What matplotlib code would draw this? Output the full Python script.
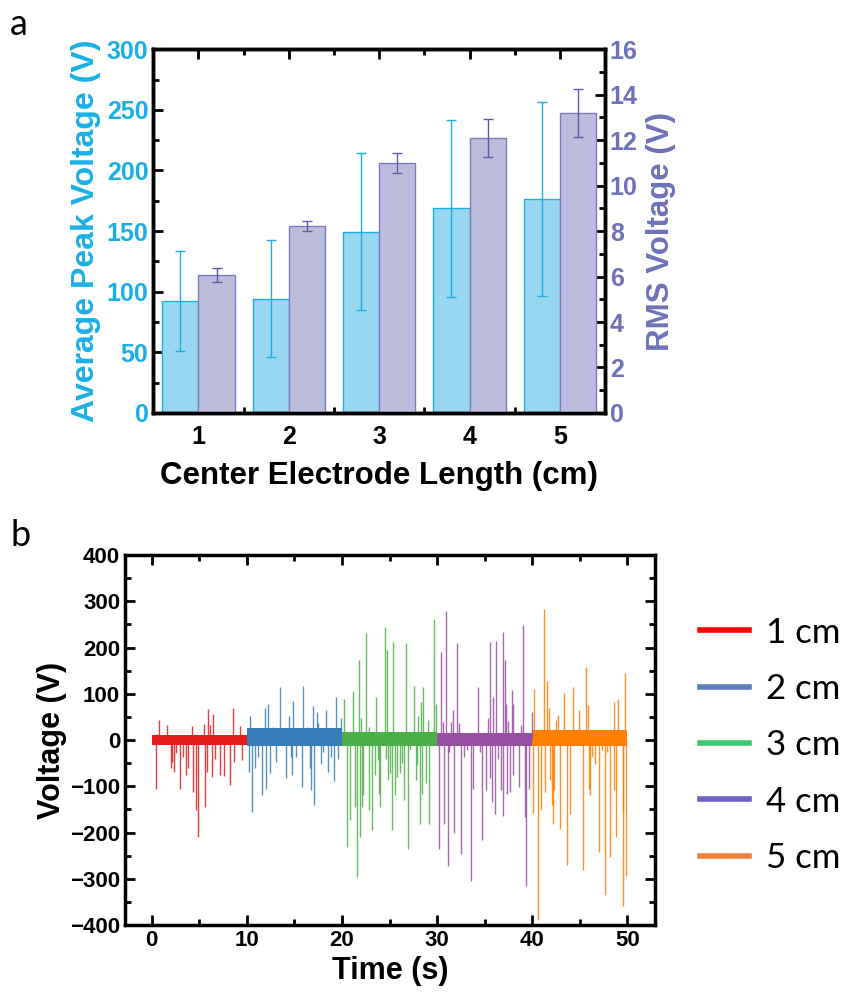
import matplotlib

matplotlib.use("Agg")
import matplotlib.pyplot as plt
from matplotlib.lines import Line2D
from matplotlib.ticker import MultipleLocator

plt.rcParams["font.family"] = ["Liberation Sans", "DejaVu Sans"]

# ---- panel a: bar data ----
lengths = [1, 2, 3, 4, 5]
peak_mean = [92.4, 94.3, 149.6, 168.8, 176.3]
peak_err = [41, 48, 64.5, 73, 80]
rms_mean = [6.07, 8.23, 11.0, 12.10, 13.2]
rms_err = [0.32, 0.23, 0.45, 0.82, 1.05]

# ---- panel b: voltage traces (spikes) ----
seg_labels = ["1 cm", "2 cm", "3 cm", "4 cm", "5 cm"]
seg_start = [0, 10, 20, 30, 40]
band_lo = [-11, -14, -12, -13, -14]
band_hi = [11, 25, 17, 16, 21]

red_t = [0.46, 0.81, 1.58, 2.04, 2.12, 2.32, 2.6, 2.98, 3.3, 3.65, 3.86, 4.21, 4.32, 4.63, 4.84,
         5.47, 5.61, 5.82, 5.93, 6.14, 6.39, 6.49, 6.7, 7.23, 7.58, 8.21, 8.56, 8.67, 9.3, 9.54]
red_v = [-105, 43, 33, -61, -47, -69, -29, -105, -36, -76, -61, 30, -112, -152, -210,
         35, -145, -69, 67, 33, -80, 56, -40, -76, -78, -98, 69, -47, 30, -43]

blue_t = [10.28, 10.35, 10.53, 10.84, 11.15, 11.61, 11.93, 12.04, 12.28, 12.39, 12.75, 13.12, 13.44,
          14.14, 14.46, 14.6, 14.77, 14.88, 15.2, 15.79, 15.89, 16.3, 16.6, 16.74, 16.95, 17.05,
          17.37, 17.48, 17.75, 18.05, 18.35, 18.56, 18.85, 19.12, 19.33, 19.6, 19.89]
blue_v = [-69, 51, -155, -61, -36, -119, 69, -105, 78, -72, 29, -47, 114,
          -83, 53, -36, -76, 85, -36, -101, 116, 29, -61, -108, 74, -141,
          60, 36, -51, -25, 65, -69, -36, -88, 94, -40, 47]

green_t = [20.21, 20.56, 20.88, 21.19, 21.4, 21.54, 21.76, 21.89, 21.96, 22.1, 22.2, 22.53, 22.84,
           22.86, 23.16, 23.51, 23.61, 23.75, 23.93, 24.04, 24.49, 24.6, 24.7, 24.84, 25.0, 25.23,
           25.37, 25.61, 25.82, 26.05, 26.3, 26.56, 26.7, 26.91, 27.1, 27.58, 27.79, 27.9, 27.96,
           28.18, 28.31, 28.4, 28.56, 28.84, 29.05, 29.19, 29.65, 29.86]
green_v = [88, -231, -174, 105, -145, -296, 174, -210, 47, -145, -119, 231, -152,
           29, -194, -76, 94, -43, -116, -145, 244, -40, 194, -87, -72, -195,
           213, -119, -80, -72, -49, -130, 210, -235, -22, 116, -87, -54, 51,
           -181, 83, -116, 114, -94, 43, -181, 262, 77]

purple_t = [30.18, 30.39, 30.6, 30.77, 30.91, 31.12, 31.3, 31.5, 31.68, 31.79, 32.11, 32.3, 32.56,
            32.8, 33.1, 33.54, 33.79, 34.31, 34.5, 34.74, 35.19, 35.3, 35.51, 35.61, 35.75, 35.85,
            36.04, 36.18, 36.35, 36.67, 36.91, 36.95, 37.12, 37.26, 37.37, 37.4, 37.61, 37.89,
            37.95, 37.98, 38.6, 38.8, 39.02, 39.23, 39.33, 39.68, 39.98]
purple_v = [-235, 190, 40, -181, 278, -273, -25, 40, 64, -201, 210, 36, -246,
            -36, -22, -304, -105, 114, -25, -217, -108, 47, -83, 213, -134, 94,
            -159, 215, -40, -108, -165, 233, 174, 77, -116, 41, -112, 108,
            -76, 77, -101, 33, 248, -166, -315, -105, 61]

orange_t = [40.07, 40.18, 40.63, 40.95, 41.19, 41.33, 41.51, 41.72, 41.89, 42.04, 42.18, 42.3,
            42.5, 42.75, 42.91, 43.33, 43.61, 43.93, 44.31, 44.88, 45.33, 45.68, 45.9, 46.0, 46.1,
            46.3, 46.55, 46.98, 47.3, 47.65, 47.9, 48.18, 48.56, 48.63, 48.84, 49.05, 49.55,
            49.58, 49.75, 49.82]
orange_v = [-158, 110, -390, -152, 283, -112, 127, 69, -87, -141, -181, -108,
            43, 54, -192, 101, -271, -159, 114, 65, -282, 158, 76, -105, -119,
            -36, -51, -242, -22, -336, -25, -253, -108, 83, -210, 89, -155,
            -358, 145, -293]

seg_t = [red_t, blue_t, green_t, purple_t, orange_t]
seg_v = [red_v, blue_v, green_v, purple_v, orange_v]
trace_colors = ["#E41A1C", "#377EB8", "#4DAF4A", "#984EA3", "#FF7F00"]
legend_colors = ["#FF0000", "#5A80B6", "#3CC86E", "#6A62BE", "#F0803A"]

cyan = "#1AB0E6"
cyan_fill = "#99D7F1"
purple = "#6E72B8"
purple_fill = "#BCBCDD"
purple_edge = "#7B7CC0"

fig = plt.figure(figsize=(8.47, 9.97), dpi=100)

# ---------------- panel a ----------------
ax1 = fig.add_axes([0.181, 0.5858, 0.5333, 0.3648])
ax2 = ax1.twinx()
w = 0.4
x_peak = [x - w / 2 for x in lengths]
x_rms = [x + w / 2 for x in lengths]
ax1.bar(x_peak, peak_mean, width=w, color=cyan_fill, edgecolor=cyan, linewidth=1.0, zorder=2)
ax1.errorbar(x_peak, peak_mean, yerr=peak_err, fmt="none", ecolor=cyan, elinewidth=1.0,
             capsize=3.5, capthick=1.0, zorder=3)
ax2.bar(x_rms, rms_mean, width=w, color=purple_fill, edgecolor=purple_edge, linewidth=1.0, zorder=2)
ax2.errorbar(x_rms, rms_mean, yerr=rms_err, fmt="none", ecolor="#5A5CAA", elinewidth=1.0,
             capsize=3.5, capthick=1.0, zorder=3)

ax1.set_xlim(0.5, 5.5)
ax1.set_ylim(0, 300)
ax2.set_ylim(0, 16)
ax1.set_xticks(lengths)
ax1.xaxis.set_minor_locator(MultipleLocator(0.5))
ax1.yaxis.set_major_locator(MultipleLocator(50))
ax1.yaxis.set_minor_locator(MultipleLocator(25))
ax2.yaxis.set_major_locator(MultipleLocator(2))
ax2.yaxis.set_minor_locator(MultipleLocator(1))

ax1.tick_params(axis="x", which="both", direction="in", top=True, labelsize=18, width=2, pad=9)
ax1.tick_params(axis="x", which="major", length=7)
ax1.tick_params(axis="x", which="minor", length=4)
ax1.tick_params(axis="y", which="both", direction="in", labelsize=18, width=2, labelcolor=cyan)
ax1.tick_params(axis="y", which="major", length=7)
ax1.tick_params(axis="y", which="minor", length=4)
ax2.tick_params(axis="y", which="both", direction="in", labelsize=18, width=2, labelcolor=purple)
ax2.tick_params(axis="y", which="major", length=7)
ax2.tick_params(axis="y", which="minor", length=4)
for lab in ax1.get_xticklabels() + ax1.get_yticklabels() + ax2.get_yticklabels():
    lab.set_fontweight("bold")
for ax in (ax1, ax2):
    for sp in ax.spines.values():
        sp.set_linewidth(2.5)

ax1.set_xlabel("Center Electrode Length (cm)", fontsize=22.5, fontweight="bold", labelpad=8)
ax1.set_ylabel("Average Peak Voltage (V)", fontsize=23, fontweight="bold", color=cyan, labelpad=4)
ax2.set_ylabel("RMS Voltage (V)", fontsize=22.5, fontweight="bold", color=purple, labelpad=6)

# ---------------- panel b ----------------
ax3 = fig.add_axes([0.1476, 0.0722, 0.6257, 0.3711])
for t0, t, v, lo, hi, c in zip(seg_start, seg_t, seg_v, band_lo, band_hi, trace_colors):
    ax3.vlines(t, 0, v, color=c, linewidth=1.0, alpha=0.85)
    ax3.fill_between([t0, t0 + 10], lo, hi, color=c, linewidth=0)

ax3.set_xlim(-2.8, 52.9)
ax3.set_ylim(-400, 400)
ax3.xaxis.set_major_locator(MultipleLocator(10))
ax3.xaxis.set_minor_locator(MultipleLocator(5))
ax3.yaxis.set_major_locator(MultipleLocator(100))
ax3.yaxis.set_minor_locator(MultipleLocator(50))
ax3.tick_params(which="both", direction="in", top=True, right=True, width=2, labelsize=16)
ax3.tick_params(which="major", length=7)
ax3.tick_params(which="minor", length=4)
for lab in ax3.get_xticklabels() + ax3.get_yticklabels():
    lab.set_fontweight("bold")
for sp in ax3.spines.values():
    sp.set_linewidth(2.5)
ax3.set_xlabel("Time (s)", fontsize=22, fontweight="bold", labelpad=4)
ax3.set_ylabel("Voltage (V)", fontsize=22, fontweight="bold", labelpad=2)

handles = [Line2D([0], [0], color=c, linewidth=4) for c in legend_colors]
ax3.legend(handles, seg_labels, loc="center left", bbox_to_anchor=(1.085, 0.486), frameon=False,
           prop={"family": ["Lato", "DejaVu Sans"], "size": 25}, handlelength=1.4,
           handletextpad=0.5, labelspacing=0.7, borderpad=0, borderaxespad=0)

fig.text(0.012, 0.975, "a", fontsize=26, family=["Lato", "DejaVu Sans"], va="center")
fig.text(0.012, 0.463, "b", fontsize=26, family=["Lato", "DejaVu Sans"], va="center")

fig.savefig("out.png", dpi=100)
